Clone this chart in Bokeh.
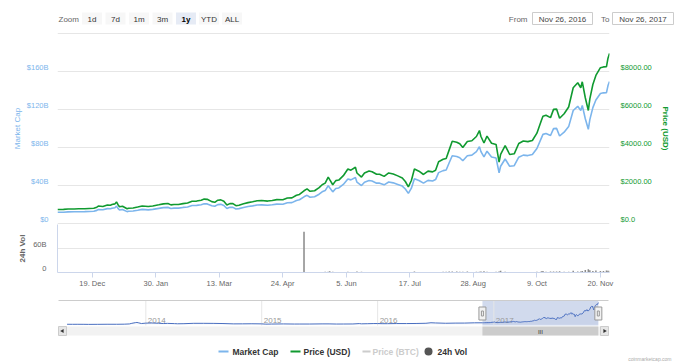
import numpy as np
import pandas as pd
from bokeh.plotting import figure
from bokeh.models import Range1d, LinearAxis, FixedTicker
from bokeh.layouts import column
from bokeh.embed import file_html
from bokeh.resources import INLINE
from bokeh.core.properties import value

FONT = "Liberation Sans"

# ---------------- data ----------------
dates = [
    "2016-11-26", "2016-11-30", "2016-12-03", "2016-12-07", "2016-12-10", "2016-12-14", "2016-12-17", "2016-12-20", "2016-12-22", "2016-12-23",
    "2016-12-26", "2016-12-29", "2016-12-31", "2017-01-01", "2017-01-03", "2017-01-04", "2017-01-05", "2017-01-06", "2017-01-08", "2017-01-11",
    "2017-01-12", "2017-01-15", "2017-01-18", "2017-01-21", "2017-01-25", "2017-01-28", "2017-02-01", "2017-02-04", "2017-02-07", "2017-02-09",
    "2017-02-11", "2017-02-14", "2017-02-17", "2017-02-20", "2017-02-23", "2017-02-26", "2017-03-01", "2017-03-03", "2017-03-05", "2017-03-08",
    "2017-03-10", "2017-03-12", "2017-03-14", "2017-03-16", "2017-03-18", "2017-03-20", "2017-03-22", "2017-03-24", "2017-03-26", "2017-03-29",
    "2017-04-01", "2017-04-04", "2017-04-07", "2017-04-10", "2017-04-14", "2017-04-17", "2017-04-20", "2017-04-24", "2017-04-27", "2017-04-30",
    "2017-05-03", "2017-05-05", "2017-05-08", "2017-05-10", "2017-05-12", "2017-05-15", "2017-05-18", "2017-05-20", "2017-05-22", "2017-05-24",
    "2017-05-25", "2017-05-27", "2017-05-29", "2017-05-31", "2017-06-03", "2017-06-06", "2017-06-08", "2017-06-11", "2017-06-12", "2017-06-15",
    "2017-06-17", "2017-06-20", "2017-06-22", "2017-06-25", "2017-06-27", "2017-06-30", "2017-07-03", "2017-07-06", "2017-07-09", "2017-07-12",
    "2017-07-14", "2017-07-16", "2017-07-18", "2017-07-20", "2017-07-23", "2017-07-26", "2017-07-29", "2017-08-01", "2017-08-03", "2017-08-05",
    "2017-08-08", "2017-08-10", "2017-08-12", "2017-08-14", "2017-08-17", "2017-08-19", "2017-08-21", "2017-08-24", "2017-08-27", "2017-08-30",
    "2017-09-01", "2017-09-02", "2017-09-04", "2017-09-06", "2017-09-09", "2017-09-12", "2017-09-14", "2017-09-15", "2017-09-18", "2017-09-21",
    "2017-09-24", "2017-09-27", "2017-09-30", "2017-10-03", "2017-10-06", "2017-10-09", "2017-10-12", "2017-10-13", "2017-10-15", "2017-10-18",
    "2017-10-20", "2017-10-22", "2017-10-24", "2017-10-27", "2017-10-30", "2017-11-02", "2017-11-05", "2017-11-07", "2017-11-08", "2017-11-10",
    "2017-11-12", "2017-11-13", "2017-11-15", "2017-11-17", "2017-11-20", "2017-11-22", "2017-11-24", "2017-11-25", "2017-11-26",
]
price_usd = [
    735, 743, 765, 766, 774, 780, 790, 800, 860, 917,
    896, 975, 963, 998, 1033, 1135, 989, 886, 911, 777,
    804, 818, 870, 923, 892, 920, 984, 1033, 1051, 981,
    1000, 1000, 1047, 1079, 1172, 1180, 1222, 1285, 1272, 1150,
    1116, 1227, 1243, 1172, 970, 1047, 1048, 937, 965, 1040,
    1099, 1141, 1196, 1207, 1180, 1210, 1255, 1249, 1345, 1348,
    1487, 1531, 1723, 1820, 1696, 1725, 1887, 2041, 2124, 2443,
    2305, 2038, 2256, 2286, 2517, 2867, 2806, 2958, 2659, 2442,
    2656, 2760, 2727, 2590, 2589, 2480, 2659, 2608, 2506, 2398,
    2210, 1929, 2264, 2871, 2754, 2580, 2757, 2718, 2806, 3252,
    3378, 3419, 3875, 4328, 4276, 4193, 4002, 4318, 4354, 4579,
    4892, 4578, 4236, 4600, 4226, 4161, 3226, 3637, 4100, 3632,
    3667, 4212, 4338, 4309, 4370, 4755, 5430, 5647, 5699, 5573,
    6007, 6021, 5538, 5777, 6130, 7144, 7407, 7144, 7459, 6618,
    5950, 6560, 7315, 7791, 8200, 8241, 8253, 8700, 8950,
]
market_cap_b = [
    11.77, 11.91, 12.27, 12.29, 12.42, 12.52, 12.69, 12.85, 13.82, 14.74,
    14.40, 15.67, 15.49, 16.05, 16.61, 18.25, 15.91, 14.26, 14.66, 12.51,
    12.94, 13.18, 14.02, 14.88, 14.38, 14.84, 15.88, 16.67, 16.97, 15.84,
    16.15, 16.16, 16.93, 17.45, 18.96, 19.09, 19.78, 20.80, 20.61, 18.63,
    18.09, 19.89, 20.15, 19.01, 15.73, 16.99, 17.01, 15.21, 15.67, 16.89,
    17.86, 18.54, 19.45, 19.63, 19.20, 19.69, 20.43, 20.33, 21.91, 21.96,
    24.24, 24.96, 28.10, 29.68, 27.66, 28.15, 30.80, 33.33, 34.68, 39.89,
    37.66, 33.30, 36.86, 37.38, 41.15, 46.90, 45.91, 48.42, 43.53, 39.98,
    43.50, 45.21, 44.70, 42.45, 42.46, 40.67, 43.63, 42.80, 41.15, 39.37,
    36.31, 31.69, 37.22, 47.20, 45.30, 42.44, 45.38, 44.77, 46.22, 53.56,
    55.67, 56.35, 63.90, 71.37, 70.55, 69.18, 66.07, 71.29, 71.93, 75.69,
    80.86, 75.67, 70.06, 76.08, 69.94, 68.86, 53.42, 60.23, 67.94, 60.18,
    60.80, 69.83, 71.97, 71.49, 72.54, 78.93, 90.19, 93.80, 94.72, 92.62,
    99.90, 100.13, 92.10, 96.13, 102.00, 118.95, 123.33, 119.02, 124.27, 110.26,
    99.19, 109.36, 121.94, 129.95, 136.78, 137.54, 137.74, 145.20, 149.38,
]
volume_b = [
    0.07, 0.10, 0.08, 0.09, 0.06, 0.09, 0.07, 0.10, 0.20, 0.35,
    0.14, 0.22, 0.12, 0.15, 0.19, 0.34, 0.50, 0.36, 0.14, 0.31,
    0.22, 0.08, 0.23, 0.11, 0.11, 0.07, 0.14, 0.13, 0.13, 0.30,
    0.12, 0.14, 0.15, 0.13, 0.31, 0.20, 0.23, 0.37, 0.19, 0.36,
    0.77, 0.27, 0.30, 0.50, 0.67, 0.30, 0.40, 0.63, 0.35, 0.50,
    0.30, 0.40, 0.40, 0.25, 0.30, 0.25, 0.40, 0.30, 0.50, 0.30,
    0.60, 0.90, 102.0, 1.00, 1.20, 1.00, 1.00, 1.00, 1.60, 2.10,
    3.40, 2.00, 1.10, 1.20, 1.00, 2.00, 1.40, 1.30, 2.40, 2.00,
    1.00, 1.40, 1.00, 1.00, 1.50, 0.90, 0.90, 0.90, 0.60, 1.10,
    0.90, 0.90, 1.50, 2.20, 1.00, 1.50, 1.10, 1.30, 1.10, 1.50,
    2.10, 1.80, 2.30, 2.40, 2.80, 2.10, 2.00, 2.20, 1.40, 1.90,
    2.10, 2.70, 2.90, 1.90, 1.40, 1.90, 2.70, 4.10, 1.90, 1.50,
    0.90, 1.50, 1.20, 1.20, 1.00, 1.70, 3.20, 3.60, 1.80, 2.40,
    2.40, 2.30, 3.00, 2.10, 2.00, 4.60, 2.40, 2.40, 4.00, 6.20,
    8.00, 5.80, 4.00, 5.10, 3.50, 3.50, 4.90, 4.60, 4.50,
]
# navigator history (market cap before the selected year)
nav_hist_dates = [
    "2013-04-28", "2013-05-15", "2013-06-01", "2013-06-20", "2013-07-05", "2013-08-01", "2013-09-01", "2013-10-01", "2013-10-25", "2013-11-10",
    "2013-11-18", "2013-11-30", "2013-12-04", "2013-12-10", "2013-12-18", "2014-01-01", "2014-01-20", "2014-02-10", "2014-02-25", "2014-03-10",
    "2014-04-01", "2014-04-11", "2014-05-01", "2014-06-01", "2014-07-01", "2014-08-01", "2014-09-01", "2014-10-05", "2014-11-01", "2014-12-01",
    "2015-01-01", "2015-01-14", "2015-02-01", "2015-03-10", "2015-04-14", "2015-05-01", "2015-06-01", "2015-07-10", "2015-08-01", "2015-08-24",
    "2015-09-15", "2015-10-15", "2015-11-04", "2015-11-11", "2015-12-01", "2015-12-20", "2016-01-01", "2016-01-15", "2016-02-01", "2016-03-01",
    "2016-04-01", "2016-05-01", "2016-06-01", "2016-06-17", "2016-07-01", "2016-08-02", "2016-09-01", "2016-10-01", "2016-11-01",
]
nav_hist_cap_b = [
    1.50, 1.30, 1.40, 1.20, 0.80, 1.10, 1.60, 1.50, 2.20, 3.80,
    8.00, 13.00, 14.00, 11.00, 6.50, 9.30, 10.20, 8.50, 6.60, 7.60,
    6.00, 5.00, 5.60, 8.00, 8.00, 7.60, 6.60, 4.30, 4.50, 5.10,
    4.30, 2.40, 3.10, 4.00, 3.10, 3.30, 3.20, 4.20, 4.20, 3.10,
    3.40, 3.70, 6.20, 4.60, 5.50, 6.60, 6.50, 5.70, 5.70, 6.60,
    6.40, 7.00, 8.40, 12.00, 10.60, 8.50, 9.50, 9.70, 11.60,
]

cap_ticks = [0, 40, 80, 120, 160]
cap_tick_labels = ["$0", "$40B", "$80B", "$120B", "$160B"]
cap_grid = [0, 40, 80, 120, 160, 200]
price_ticks = [0, 2000, 4000, 6000, 8000]
price_tick_labels = ["$0.0", "$2000.00", "$4000.00", "$6000.00", "$8000.00"]
vol_ticks = [0, 60]
vol_tick_labels = ["0", "60B"]
x_tick_dates = ["2016-12-19", "2017-01-30", "2017-03-13", "2017-04-24", "2017-06-05",
                "2017-07-17", "2017-08-28", "2017-10-09", "2017-11-20"]
x_tick_labels = ["19. Dec", "30. Jan", "13. Mar", "24. Apr", "5. Jun",
                 "17. Jul", "28. Aug", "9. Oct", "20. Nov"]
nav_years = ["2014-01-01", "2015-01-01", "2016-01-01", "2017-01-01"]
nav_year_labels = ["2014", "2015", "2016", "2017"]
zoom_buttons = ["1d", "7d", "1m", "3m", "1y", "YTD", "ALL"]
selected_button = "1y"
range_from, range_to = "2016-11-26", "2017-11-26"
range_from_label, range_to_label = "Nov 26, 2016", "Nov 26, 2017"
series_names = ["Market Cap", "Price (USD)", "Price (BTC)", "24h Vol"]

C_CAP = "#7cb5ec"
C_PRICE = "#109a30"
C_VOL = "#8a8a8a"
GRID = "#e6e6e6"
AXLINE = "#ccd6eb"
LABEL_LIFT = 4  # px: tick labels sit slightly above their grid lines


def ms(d):
    return pd.Timestamp(d).value / 1e6


dt = pd.to_datetime(dates)
W = 679
FL, FR = 57, 609          # plot frame left/right (page px)


def base(fig):
    fig.outline_line_color = None
    fig.background_fill_color = "white"
    fig.border_fill_color = "white"
    fig.frame_align = False
    return fig


def style_y_axis(ax, ticks, labels, per_px, color, title, title_color, standoff, title_standoff, bold):
    lifted = [t + LABEL_LIFT / per_px for t in ticks]
    ax.ticker = FixedTicker(ticks=lifted)
    ax.major_label_overrides = dict(zip(lifted, labels))
    ax.major_tick_line_color = None
    ax.major_tick_in = 0
    ax.major_tick_out = 0
    ax.minor_tick_line_color = None
    ax.minor_tick_in = 0
    ax.minor_tick_out = 0
    ax.major_label_standoff = standoff
    ax.major_label_text_color = color
    ax.major_label_text_font = FONT
    ax.major_label_text_font_size = "7.5px"
    ax.axis_label = title
    ax.axis_label_text_color = title_color
    ax.axis_label_text_font = FONT
    ax.axis_label_text_font_size = "8px"
    ax.axis_label_text_font_style = "bold" if bold else "normal"
    ax.axis_label_standoff = title_standoff


# ---------------- header (pixel space) ----------------
hdr = base(figure(width=W, height=30, x_range=Range1d(0, W), y_range=Range1d(30, 0),
                  x_axis_type=None, y_axis_type=None, min_border=0,
                  output_backend="svg", toolbar_location=None))
btn_x = [91.5, 115, 138.5, 162, 185.5, 208.5, 231.5]
btn_fill = ["#e6ebf5" if b == selected_button else "#f7f7f7" for b in zoom_buttons]
hdr.rect(x=btn_x, y=18, width=20, height=12, fill_color=btn_fill, line_color=None)
normal = [(x, b) for x, b in zip(btn_x, zoom_buttons) if b != selected_button]
sel = [(x, b) for x, b in zip(btn_x, zoom_buttons) if b == selected_button]
hdr.text(x=[n[0] for n in normal], y=18.5, text=[n[1] for n in normal], text_align="center",
         text_baseline="middle", text_font=value(FONT), text_font_size="8px", text_color="#333333")
hdr.text(x=[n[0] for n in sel], y=18.5, text=[n[1] for n in sel], text_align="center",
         text_baseline="middle", text_font=value(FONT), text_font_size="8px", text_color="#000000",
         text_font_style="bold")
hdr.text(x=[58, 527, 609], y=18.5, text=["Zoom", "From", "To"], text_align=["left", "right", "right"],
         text_baseline="middle", text_font=value(FONT), text_font_size="8px", text_color="#666666")
hdr.rect(x=[562, 642.5], y=18, width=[60, 61], height=12, fill_color="white", line_color="#cccccc")
hdr.text(x=[562, 642.5], y=18.5, text=[range_from_label, range_to_label], text_align="center",
         text_baseline="middle", text_font=value(FONT), text_font_size="8px", text_color="#444444")

# ---------------- main panel (page y 30..224, frame 32..224) ----------------
x_range = Range1d(ms(range_from), ms(range_to))
pxB = (223 - 33) / 200.0
main = base(figure(width=W, height=194, x_range=x_range,
                   y_range=Range1d(-(224 - 223) / pxB, 200 + (33 - 32) / pxB),
                   x_axis_type=None, min_border_left=FL, min_border_right=W - FR,
                   min_border_top=2, min_border_bottom=0,
                   output_backend="svg", toolbar_location=None))
pxP = (223 - 33) / 10000.0
main.extra_y_ranges = {"price": Range1d(-(224 - 223) / pxP, 10000 + (33 - 32) / pxP)}
ya = main.yaxis[0]
ya.axis_line_color = None
style_y_axis(ya, cap_ticks, cap_tick_labels, pxB, C_CAP, "Market Cap", C_CAP, 9, 2, False)
main.ygrid[0].ticker = FixedTicker(ticks=cap_grid)
main.ygrid[0].grid_line_color = GRID

ra = LinearAxis(y_range_name="price")
ra.axis_line_color = None
style_y_axis(ra, price_ticks, price_tick_labels, pxP, C_PRICE, "Price (USD)", C_PRICE, 11, 6, True)
main.add_layout(ra, "right")

main.line(dt, market_cap_b, line_color=C_CAP, line_width=1.6)
main.line(dt, price_usd, line_color=C_PRICE, line_width=1.6, y_range_name="price")

# ---------------- volume panel (page y 224..290, frame 224..272) ----------------
vol = base(figure(width=W, height=66, x_range=x_range, y_range=Range1d(0, 120),
                  x_axis_type=None, min_border_left=FL, min_border_right=W - FR,
                  min_border_top=0, min_border_bottom=18,
                  output_backend="svg", toolbar_location=None))
va = vol.yaxis[0]
va.axis_line_color = AXLINE
style_y_axis(va, vol_ticks, vol_tick_labels, 48 / 120.0, "#666666", "24h Vol", "#666666", 11, 3, True)
vol.ygrid[0].ticker = FixedTicker(ticks=[60])
vol.ygrid[0].grid_line_color = GRID

xa = LinearAxis()
xt = [ms(d) for d in x_tick_dates]
xa.ticker = FixedTicker(ticks=xt)
xa.major_label_overrides = dict(zip(xt, x_tick_labels))
xa.axis_line_color = AXLINE
xa.major_tick_line_color = AXLINE
xa.major_tick_in = 0
xa.major_tick_out = 5
xa.minor_tick_line_color = None
xa.major_label_standoff = 1
xa.major_label_text_color = "#666666"
xa.major_label_text_font = FONT
xa.major_label_text_font_size = "7.5px"
vol.add_layout(xa, "below")

vol.vbar(x=dt, top=volume_b, width=86400000, fill_color=C_VOL, line_color=None)

# ---------------- navigator + scrollbar + legend (page y 290..362) ----------------
NAV_L, NAV_R, NAV_T, NAV_B = 58, 608, 300, 325
nav_t0, nav_t1 = ms("2013-04-01"), ms("2017-12-28")
mspp = (nav_t1 - nav_t0) / (NAV_R - NAV_L)
CAP0_PX, CAPMAX_PX, CAPMAX = 324, 302, 150.0
pxNB = (CAP0_PX - CAPMAX_PX) / CAPMAX
nav = base(figure(width=W, height=72,
                  x_range=Range1d(nav_t0 - NAV_L * mspp, nav_t1 + (W - NAV_R) * mspp),
                  y_range=Range1d(-(362 - CAP0_PX) / pxNB, CAPMAX + (CAPMAX_PX - 290) / pxNB),
                  x_axis_type=None, y_axis_type=None, min_border=0,
                  output_backend="svg", toolbar_location=None))
nav.extra_x_ranges = {"px": Range1d(0, W)}
nav.extra_y_ranges = {"px": Range1d(362, 290)}

band0, band1 = ms(range_from), ms(range_to)
nav.quad(left=[band0], right=[band1], top=[NAV_T], bottom=[NAV_B], y_range_name="px",
         fill_color="#6685c2", fill_alpha=0.3, line_color=None)
yrs = [ms(d) for d in nav_years]
nav.segment(x0=yrs, x1=yrs, y0=NAV_T, y1=NAV_B, y_range_name="px", line_color=GRID, line_width=1)
nav.text(x=yrs, y=320, text=nav_year_labels, x_offset=2, y_range_name="px", text_align="left",
         text_baseline="middle", text_font=value(FONT), text_font_size="8px", text_color="#999999")
nav_dt = pd.to_datetime(nav_hist_dates + dates)
nav_cap = nav_hist_cap_b + market_cap_b
nav.varea(x=nav_dt, y1=0, y2=nav_cap, fill_color="#335cad", fill_alpha=0.05)
nav.line(nav_dt, nav_cap, line_color="#4a6fc0", line_width=1)
nav.segment(x0=[NAV_L], x1=[NAV_R], y0=NAV_T, y1=NAV_T, x_range_name="px", y_range_name="px",
            line_color="#cccccc", line_width=1)
# handles
nav.rect(x=[band0, band1], y=313, width=7, height=13, width_units="screen", height_units="screen",
         y_range_name="px", fill_color="#f2f2f2", line_color="#999999")
nav.rect(x=[band0, band1], y=313, width=2, height=5, width_units="screen", height_units="screen",
         y_range_name="px", fill_color=None, line_color="#999999")
# scrollbar
SB_T, SB_B = 326, 335
nav.quad(left=[NAV_L], right=[NAV_R], top=[SB_T], bottom=[SB_B], x_range_name="px", y_range_name="px",
         fill_color="#f2f2f2", line_color=None)
nav.quad(left=[band0], right=[band1], top=[SB_T], bottom=[SB_B], y_range_name="px",
         fill_color="#cccccc", line_color=None)
nav.quad(left=[NAV_L, NAV_R - 8], right=[NAV_L + 8, NAV_R], top=SB_T, bottom=SB_B,
         x_range_name="px", y_range_name="px", fill_color="#e6e6e6", line_color="#cccccc")
nav.scatter(x=[NAV_L + 4, NAV_R - 4], y=330.5, marker="triangle", angle=[np.pi / 2, -np.pi / 2],
            size=4, x_range_name="px", y_range_name="px", fill_color="#333333", line_color=None)
nav.text(x=[(band0 + band1) / 2], y=331, text=["III"], y_range_name="px", text_align="center",
         text_baseline="middle", text_font=value(FONT), text_font_size="6px", text_color="#333333")

# legend (drawn in page-pixel space)
LEG_Y = 351
leg_line_x0 = [218, 290, 362]
leg_line_x1 = [228, 300, 370]
leg_line_c = [C_CAP, C_PRICE, "#cccccc"]
nav.segment(x0=leg_line_x0, x1=leg_line_x1, y0=LEG_Y, y1=LEG_Y, x_range_name="px", y_range_name="px",
            line_color=leg_line_c, line_width=2)
nav.scatter(x=[428], y=[LEG_Y], marker="circle", size=8, x_range_name="px", y_range_name="px",
            fill_color="#555555", line_color=None)
nav.text(x=[232, 303, 372, 437], y=LEG_Y + 0.5, text=series_names, x_range_name="px", y_range_name="px",
         text_align="left", text_baseline="middle", text_font=value(FONT), text_font_size="8.5px",
         text_font_style="bold", text_color=["#333333", "#333333", "#cccccc", "#333333"])
nav.text(x=[671], y=358, text=["coinmarketcap.com"], x_range_name="px", y_range_name="px",
         text_align="right", text_baseline="middle", text_font=value(FONT), text_font_size="5px",
         text_color="#aaaaaa")

layout = column(hdr, main, vol, nav, spacing=0)
open("out.html", "w").write(file_html(layout, INLINE))
